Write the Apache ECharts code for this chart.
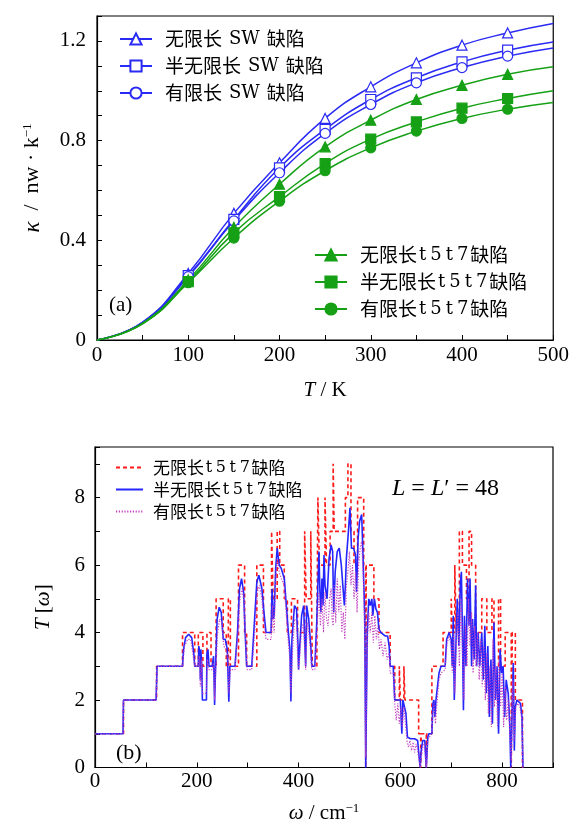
<!DOCTYPE html>
<html>
<head>
<meta charset="utf-8">
<script src="https://cdn.jsdelivr.net/npm/echarts@6/dist/echarts.min.js"></script>
<style>
  html, body { margin: 0; padding: 0; background: #fff; }
  #main { width: 572px; height: 825px; }
</style>
</head>
<body>
<div id="main"></div>
<script>
// panel (a): thermal conductance vs temperature
let temps = [0, 50, 100, 150, 200, 250, 300, 350, 400, 450, 500];
let swInf  = [0, 0.072, 0.267, 0.508, 0.711, 0.889, 1.016, 1.112, 1.183, 1.232, 1.270];
let swSemi = [0, 0.071, 0.258, 0.484, 0.691, 0.845, 0.965, 1.052, 1.116, 1.163, 1.196];
let swFin  = [0, 0.070, 0.254, 0.478, 0.671, 0.829, 0.945, 1.032, 1.093, 1.139, 1.172];
let t57Inf  = [0, 0.068, 0.241, 0.452, 0.625, 0.775, 0.882, 0.965, 1.022, 1.066, 1.096];
let t57Semi = [0, 0.066, 0.234, 0.430, 0.575, 0.708, 0.806, 0.875, 0.930, 0.969, 1.000];
let t57Fin  = [0, 0.065, 0.230, 0.409, 0.557, 0.679, 0.771, 0.838, 0.889, 0.926, 0.953];

// panel (b): transmission spectra, [omega, T]
let transInf = [[0,1],[56,2],[121,3],[172,4],[196,3],[203,4],[212,3],[220,4],[228,3],[238,5],[252,4],[258,3],[262,5],[266,3],[282,6],[294,4],[298,3],[318,6],[331,4],[347,7],[350,5],[358,7],[363,6],[372,5],[378,4],[386,5],[398,4],[412,7],[415,5],[424,7],[427,3],[436,4],[438,8],[441,6],[452,8],[455,6],[462,7],[468,9],[470,7],[486,7],[492,8],[497,9],[503,7],[509,6],[516,8],[528,6],[532,0],[533,6],[548,5],[558,4],[580,3],[589,2],[598,3],[600,2],[607,3],[609,2],[636,1],[640,0],[641,1],[651,0],[652,1],[662,3],[684,4],[700,5],[702,4],[707,6],[710,4],[716,7],[722,6],[730,5],[735,7],[740,6],[748,4],[760,5],[770,4],[780,5],[784,3],[793,5],[797,3],[806,4],[818,0],[820,4],[826,2],[840,0],[842,0]];
let transSemi = [[0,1],[55,1],[56,2],[120,2],[122,3],[172,3],[174,3.5],[178,3.85],[184,3.95],[190,3.85],[194,3.4],[196,3],[203,3],[204,3.6],[206,3.4],[207,2.6],[208,3.5],[210,3.0],[211,2.0],[219,2.0],[220,3.4],[222,3.5],[224,3.0],[230,3.0],[233,3.3],[235,1.85],[237,3.0],[240,4.4],[244,4.75],[248,4.6],[252,3.8],[256,3.8],[260,3.5],[263,1.95],[265,3.0],[275,3.0],[280,4.0],[284,5.3],[288,5.6],[292,5.2],[295,4.0],[298,3.0],[308,3.0],[312,4.0],[318,5.5],[322,5.7],[328,5.3],[332,4.6],[336,4.0],[346,4.0],[348,5.3],[350,4.4],[352,4.5],[355,5.9],[358,6.5],[362,6.0],[366,5.9],[372,5.6],[376,4.8],[380,4.0],[383,3.5],[385,1.96],[387,3.8],[392,4.8],[396,4.7],[399,3.6],[400,2.9],[402,3.5],[406,4.5],[410,4.8],[412,3.8],[414,3.0],[416,4.8],[420,4.4],[424,3.6],[426,3.0],[432,3.0],[436,4.4],[440,6.4],[442,5.2],[444,4.6],[446,5.6],[448,4.8],[450,6.3],[452,5.4],[456,5.0],[460,6.2],[464,6.6],[467,6.4],[469,4.6],[472,5.8],[476,6.4],[480,6.5],[484,6.0],[488,5.2],[490,4.8],[492,5.4],[494,6.2],[498,7.0],[501,7.7],[504,6.5],[508,6.5],[512,6.3],[514,5.2],[517,6.8],[520,7.3],[524,7.5],[526,6.6],[528,6.6],[530,4.5],[532,0],[533,0],[535,4.0],[538,5.0],[541,4.8],[544,5.0],[546,4.5],[549,5.0],[552,4.7],[555,4.6],[558,4.1],[562,4.0],[570,3.9],[575,3.9],[578,3.6],[580,3.0],[586,3.0],[589,2.0],[600,2.0],[603,1.0],[605,2.0],[608,2.0],[611,1.6],[614,0.9],[620,0.85],[628,0.85],[634,0.8],[637,0.3],[639,0],[640,0],[641,0.5],[644,0.8],[648,0.8],[651,0],[652,0],[654,0.9],[656,1.0],[662,1.0],[664,1.9],[666,2.0],[668,1.5],[670,2.0],[673,2.0],[676,2.8],[680,3.0],[688,3.0],[691,3.8],[696,4.0],[700,3.8],[702,3.0],[704,4.5],[706,2.0],[708,3.0],[712,5.0],[715,3.6],[718,5.5],[720,5.8],[722,4.0],[724,1.7],[726,4.5],[729,3.0],[732,5.6],[735,4.2],[737,5.6],[740,3.0],[742,4.4],[745,3.2],[748,5.4],[750,3.0],[753,4.0],[756,3.0],[760,4.0],[763,2.6],[766,4.2],[769,2.2],[772,3.6],[775,1.5],[778,3.2],[781,1.3],[784,4.3],[787,2.0],[790,3.0],[793,1.0],[796,3.5],[799,2.8],[802,3.0],[805,1.5],[808,2.6],[812,2.2],[815,1.3],[817,0],[820,0],[822,3.1],[824,0.5],[826,1.8],[829,2.0],[832,2.0],[836,1.9],[839,1.5],[841,0],[842,0]];
let transFin = [[0,1],[55,1],[56,2],[120,2],[122,3],[172,3],[176,3.6],[182,3.8],[188,3.8],[193,3.3],[196,3],[203,3],[205,3.3],[207,2.4],[209,3.2],[211,2.2],[219,2.2],[221,3.2],[224,2.9],[230,2.9],[233,3.1],[235,2.0],[237,2.8],[241,4.0],[245,4.4],[249,4.3],[253,3.6],[257,3.5],[261,3.3],[263,2.2],[266,2.9],[275,2.9],[280,3.8],[285,5.0],[289,5.3],[293,4.9],[296,3.8],[299,2.9],[308,2.9],[313,3.8],[319,5.2],[323,5.4],[328,5.0],[332,4.3],[336,3.8],[346,3.8],[349,4.8],[352,4.0],[355,5.5],[358,6.2],[362,5.8],[366,5.6],[372,5.4],[376,4.5],[380,3.7],[383,3.2],[385,2.2],[388,3.4],[392,4.4],[396,4.3],[398,3.3],[400,2.9],[403,3.4],[406,4.1],[410,4.3],[412,3.5],[414,2.9],[417,4.3],[420,4.0],[424,3.4],[426,2.9],[432,2.9],[436,4.0],[440,5.2],[443,4.2],[446,5.0],[449,4.0],[452,5.2],[455,4.4],[458,4.2],[461,5.0],[464,5.3],[466,4.4],[468,4.2],[470,5.4],[473,4.3],[476,5.6],[479,4.6],[482,5.4],[485,4.0],[488,4.6],[491,3.8],[494,5.4],[497,5.8],[500,6.4],[503,5.4],[506,6.0],[509,5.0],[512,5.8],[515,4.6],[518,6.0],[521,6.5],[524,6.7],[527,5.7],[530,4.0],[532,0.3],[533,0.3],[535,3.6],[538,4.6],[541,4.0],[544,4.6],[547,3.7],[550,4.5],[553,3.8],[556,4.2],[559,3.5],[562,3.8],[566,3.3],[570,3.7],[574,3.2],[578,3.4],[580,2.8],[586,2.8],[589,1.9],[592,1.4],[595,1.9],[598,1.3],[601,1.8],[604,1.2],[607,1.8],[610,1.3],[613,0.8],[616,0.6],[619,0.8],[622,0.5],[625,0.75],[628,0.45],[631,0.7],[634,0.5],[637,0.2],[639,0],[641,0.3],[644,0.6],[647,0.7],[651,0],[654,0.8],[657,0.9],[662,1.0],[664,1.6],[666,1.9],[669,1.3],[672,1.9],[676,2.6],[680,2.8],[688,2.9],[692,3.7],[696,3.9],[700,3.6],[702,2.8],[705,4.0],[707,2.2],[710,3.6],[713,4.6],[716,3.0],[719,5.0],[722,3.6],[725,2.0],[728,4.2],[731,3.0],[734,5.0],[737,3.6],[740,4.6],[743,2.8],[746,4.2],[749,3.0],[752,4.0],[755,2.6],[758,3.8],[761,2.4],[764,3.6],[767,2.0],[770,3.4],[773,1.6],[776,3.0],[779,1.2],[782,3.8],[785,1.8],[788,3.0],[791,1.2],[794,3.2],[797,1.8],[800,2.8],[803,1.2],[806,2.4],[809,1.4],[812,2.0],[815,1.0],[818,0.2],[821,2.6],[824,0.8],[827,1.8],[831,1.9],[835,1.8],[839,1.4],[841,0],[842,0]];

let namesA = ['无限长SW缺陷', '半无限长SW缺陷', '有限长SW缺陷', '无限长t5t7缺陷', '半无限长t5t7缺陷', '有限长t5t7缺陷'];
let namesB = ['无限长t5t7缺陷 ', '半无限长t5t7缺陷 ', '有限长t5t7缺陷 '];

const SERIF = "'Liberation Serif', 'DejaVu Serif', serif";
const LATIN = "'DejaVu Serif', serif";
const CJK = "'Noto Sans CJK SC', sans-serif";
const BLUE = '#2a2af5';
const GREEN = '#16a016';

let chart = echarts.init(document.getElementById('main'));

// markers only on the 100..450 points
function curve(vals) {
  return temps.map(function (t, i) {
    let item = { value: [t, vals[i]] };
    if (t < 100 || t > 450) item.symbol = 'none';
    return item;
  });
}

function kSeries(name, vals, color, symbol, filled) {
  return {
    name: name, type: 'line', xAxisIndex: 0, yAxisIndex: 0,
    data: curve(vals),
    smooth: 0.5,
    symbol: symbol, symbolSize: 10,
    lineStyle: { color: color, width: 1.5 },
    itemStyle: { color: filled ? color : '#fff', borderColor: color, borderWidth: 1.2 },
    emphasis: { disabled: true },
    animation: false
  };
}

function tSeries(name, data, color, type, width, step) {
  return {
    name: name, type: 'line', xAxisIndex: 1, yAxisIndex: 1,
    data: data, step: step, symbol: 'none',
    lineStyle: { color: color, width: width, type: type },
    itemStyle: { color: color },
    emphasis: { disabled: true },
    animation: false
  };
}

// legend labels: CJK in sans, latin part set a bit apart like the original
function legendLabel(name) {
  return name.trim().split(/([A-Za-z0-9]+)/).filter(function (s) { return s; }).map(function (part) {
    if (part === 'SW') return '{w|SW}';
    if (/^[A-Za-z0-9]+$/.test(part)) {
      return part.split('').map(function (ch) { return '{l|' + ch + '}'; }).join('');
    }
    return '{c|' + part + '}';
  }).join('');
}

function legendRich(size, pad, padW) {
  return {
    c: { fontFamily: CJK, fontSize: size, color: '#000' },
    l: { fontFamily: LATIN, fontSize: size - 1, color: '#000', padding: [0, pad] },
    w: { fontFamily: LATIN, fontSize: size - 1, color: '#000', padding: [0, padW] }
  };
}

let axisText = { color: '#000', fontFamily: SERIF, fontSize: 21 };

let option = {
  backgroundColor: '#fff',
  animation: false,
  grid: [
    { left: 97, top: 16, width: 458, height: 324, show: true, borderColor: '#000', borderWidth: 1.2 },
    { left: 95, top: 447, width: 458, height: 323, show: true, borderColor: '#000', borderWidth: 1.2 }
  ],
  xAxis: [
    {
      gridIndex: 0, type: 'value', min: 0, max: 500, interval: 50,
      axisLine: { lineStyle: { color: '#000', width: 1.2 } },
      axisTick: { inside: true, length: 5, lineStyle: { color: '#000' } },
      splitLine: { show: false },
      axisLabel: Object.assign({ margin: 5, formatter: function (v) { return v % 100 === 0 ? String(v) : ''; } }, axisText),
      name: '{i|T} / K', nameLocation: 'middle', nameGap: 40,
      nameTextStyle: { color: '#000', fontFamily: SERIF, fontSize: 21, rich: { i: { fontStyle: 'italic', fontFamily: SERIF, fontSize: 21 } } }
    },
    {
      gridIndex: 1, type: 'value', min: 0, max: 900, interval: 100,
      axisLine: { lineStyle: { color: '#000', width: 1.2 } },
      axisTick: { inside: true, length: 5, lineStyle: { color: '#000' } },
      splitLine: { show: false },
      axisLabel: Object.assign({ margin: 3, formatter: function (v) { return v % 200 === 0 ? String(v) : ''; } }, axisText),
      name: '{i|ω} / cm{s|−1}', nameLocation: 'middle', nameGap: 35,
      nameTextStyle: { color: '#000', fontFamily: SERIF, fontSize: 21, rich: { i: { fontStyle: 'italic', fontFamily: SERIF, fontSize: 21 }, s: { fontFamily: SERIF, fontSize: 13, verticalAlign: 'top', padding: [0, 0, 9, 0] } } }
    }
  ],
  yAxis: [
    {
      gridIndex: 0, type: 'value', min: 0, max: 1.3, interval: 0.1,
      axisLine: { lineStyle: { color: '#000', width: 1.2 } },
      axisTick: { inside: true, length: 5, lineStyle: { color: '#000' } },
      splitLine: { show: false },
      axisLabel: Object.assign({ margin: 11, formatter: function (v) { let k = Math.round(v * 10); return k % 4 === 0 ? (k === 0 ? '0' : (k / 10).toFixed(1)) : ''; } }, axisText),
      name: '{i|κ}  /  nw · k{s|−1}', nameLocation: 'middle', nameGap: 53,
      nameTextStyle: { color: '#000', fontFamily: SERIF, fontSize: 22, rich: { i: { fontStyle: 'italic', fontFamily: SERIF, fontSize: 23 }, s: { fontFamily: SERIF, fontSize: 13, verticalAlign: 'top', padding: [0, 0, 9, 0] } } }
    },
    {
      gridIndex: 1, type: 'value', min: 0, max: 9.5, interval: 1,
      axisLine: { lineStyle: { color: '#000', width: 1.2 } },
      axisTick: { inside: true, length: 5, lineStyle: { color: '#000' } },
      splitLine: { show: false },
      axisLabel: Object.assign({ margin: 10, formatter: function (v) { return (Math.abs(v - Math.round(v)) < 1e-6 && Math.round(v) % 2 === 0) ? String(Math.round(v)) : ''; } }, axisText),
      name: '{i|T} [{i|ω}]', nameLocation: 'middle', nameGap: 41,
      nameTextStyle: { color: '#000', fontFamily: SERIF, fontSize: 21, rich: { i: { fontStyle: 'italic', fontFamily: SERIF, fontSize: 21 } } }
    }
  ],
  legend: [
    {
      data: namesA.slice(0, 3), orient: 'vertical', left: 114, top: 23,
      itemWidth: 32, itemHeight: 14, itemGap: 5,
      formatter: legendLabel,
      textStyle: { color: '#000', fontSize: 19, lineHeight: 22, padding: [0, 0, 0, 8], rich: legendRich(19, 2, 7) },
      selectedMode: false
    },
    {
      data: namesA.slice(3), orient: 'vertical', left: 309, top: 239,
      itemWidth: 32, itemHeight: 14, itemGap: 5,
      formatter: legendLabel,
      textStyle: { color: '#000', fontSize: 19, lineHeight: 22, padding: [0, 0, 0, 8], rich: legendRich(19, 2, 7) },
      selectedMode: false
    },
    {
      data: namesB.map(function (n) { return { name: n, itemStyle: { opacity: 0 } }; }),
      orient: 'vertical', left: 110, top: 453,
      itemWidth: 27, itemHeight: 10, itemGap: 3,
      formatter: legendLabel,
      textStyle: { color: '#000', fontSize: 17, lineHeight: 19, padding: [0, 0, 0, 5], rich: legendRich(17, 1.8, 5) },
      selectedMode: false
    }
  ],
  graphic: [
    { type: 'text', left: 109, top: 295, style: { text: '(a)', font: "21px 'Liberation Serif', serif", fill: '#000' } },
    { type: 'text', left: 116, top: 742, style: { text: '(b)', font: "22px 'Liberation Serif', serif", fill: '#000' } },
    {
      type: 'text', left: 392, top: 477,
      style: {
        text: '{i|L} = {i|L}′ = 48',
        font: "24px 'Liberation Serif', serif", fill: '#000',
        rich: { i: { fontStyle: 'italic', fontFamily: "'Liberation Serif', serif", fontSize: 24 } }
      }
    }
  ],
  series: [
    kSeries(namesA[0], swInf, BLUE, 'triangle', false),
    kSeries(namesA[1], swSemi, BLUE, 'rect', false),
    kSeries(namesA[2], swFin, BLUE, 'circle', false),
    kSeries(namesA[3], t57Inf, GREEN, 'triangle', true),
    kSeries(namesA[4], t57Semi, GREEN, 'rect', true),
    kSeries(namesA[5], t57Fin, GREEN, 'circle', true),
    tSeries(namesB[0], transInf, '#ff1a1a', [4, 3], 1.6, 'end'),
    tSeries(namesB[1], transSemi, '#2525ff', 'solid', 1.6, false),
    tSeries(namesB[2], transFin, '#c040c0', [1.2, 1.6], 1.2, false)
  ]
};

chart.setOption(option);
</script>
</body>
</html>
